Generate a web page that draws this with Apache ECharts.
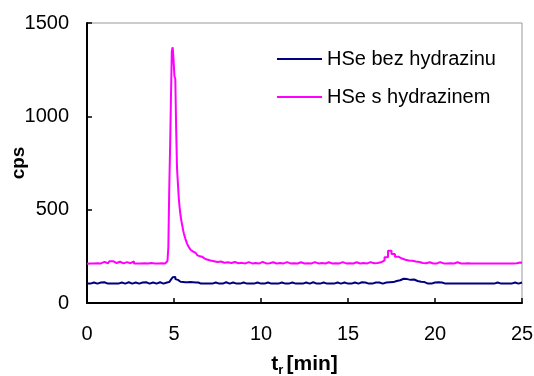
<!DOCTYPE html>
<html><head><meta charset="utf-8">
<script src="https://cdn.jsdelivr.net/npm/echarts@6/dist/echarts.min.js"></script>
<style>html,body{margin:0;padding:0;background:#fff}#c{width:534px;height:376px}</style>
</head><body><div id="c"></div>
<script>
// sampling times [min]
const times = [
0,0.2,0.4,0.6,0.8,1.0,1.2,1.4,1.6,1.8,2.0,2.2,2.4,2.6,2.8,3.0,3.2,3.4,3.6,3.8,4.0,4.2,4.4,4.6,
4.65,4.7,4.75,4.8,4.85,4.9,4.95,5.0,5.05,5.1,5.15,5.2,5.25,5.3,5.35,5.4,5.45,5.5,5.55,5.6,
5.7,5.8,5.9,6.0,6.1,6.2,6.3,6.4,6.5,6.6,6.7,6.8,6.9,7.0,
7.2,7.4,7.6,7.8,8.0,8.2,8.4,8.6,8.8,9.0,9.2,9.4,9.6,9.8,
10.0,10.2,10.4,10.6,10.8,11.0,11.2,11.4,11.6,11.8,12.0,12.2,12.4,12.6,12.8,13.0,13.2,13.4,13.6,13.8,
14.0,14.2,14.4,14.6,14.8,15.0,15.2,15.4,15.6,15.8,16.0,16.2,16.4,16.6,16.8,17.0,17.2,17.4,17.6,17.8,
18.0,18.2,18.4,18.6,18.8,19.0,19.2,19.4,19.6,19.8,20.0,20.2,20.4,20.6,20.8,21.0,21.2,21.4,21.6,21.8,
22.0,22.2,22.4,22.6,22.8,23.0,23.2,23.4,23.6,23.8,24.0,24.2,24.4,24.6,24.8,25.0
];
// HSe bez hydrazinu [cps]
const bezHydrazinu = [
104,104,110,104,110,111,104,104,104,104,110,104,111,104,110,104,110,111,104,110,104,111,104,110,
108,112,115,118,125,130,138,135,140,128,132,124,126,118,114,116,112,113,110,111,
112,111,112,110,111,110,111,110,104,110,104,104,110,104,
104,110,104,104,111,104,110,104,104,110,104,104,104,110,
104,104,110,104,104,104,110,104,104,110,104,104,104,110,104,111,104,104,110,104,
104,104,110,104,110,104,104,110,104,111,110,104,104,110,110,104,110,111,112,118,
122,130,128,124,126,118,114,112,104,104,110,111,110,104,104,104,104,104,104,104,
104,104,104,104,104,104,104,104,110,104,104,104,104,110,104,110
];
// HSe s hydrazinem [cps]
const sHydrazinem = [
210,212,211,213,212,220,213,224,214,221,212,219,213,223,212,211,213,212,214,212,211,213,212,216,
225,300,600,830,1100,1350,1370,1300,1215,1200,930,720,640,560,510,470,440,415,390,370,
345,318,300,285,275,268,262,255,250,246,240,236,232,228,
224,220,222,216,218,214,220,213,215,212,219,212,214,212,
220,212,213,218,212,214,212,219,212,213,212,218,212,213,212,219,212,214,212,218,
212,213,212,219,212,213,212,218,212,214,212,219,213,214,218,228,245,280,262,248,
238,232,228,226,222,220,214,213,218,212,212,219,212,212,213,212,218,212,212,213,
212,212,212,212,212,212,212,212,212,212,212,212,212,213,217,216
];
const seriesNames = ['HSe bez hydrazinu', 'HSe s hydrazinem'];
const xTicks = {min: 0, max: 25, interval: 5};
const yTicks = {min: 0, max: 1500, interval: 500};

const font = '"Liberation Sans", Arial, sans-serif';
const zip = (vals) => times.map((t, i) => [t, vals[i]]);
const chart = echarts.init(document.getElementById('c'));
chart.setOption({
  animation: false,
  backgroundColor: '#fff',
  textStyle: {fontFamily: font},
  grid: {left: 87, right: 12, top: 23, bottom: 73, show: true, borderColor: '#999', borderWidth: 1,
         containLabel: false, outerBoundsMode: 'none'},
  legend: {
    orient: 'vertical', left: 277, top: 48, padding: 0, itemWidth: 45, itemHeight: 2, itemGap: 16, icon: 'rect',
    textStyle: {fontFamily: font, fontSize: 20, color: '#000', lineHeight: 22},
    data: seriesNames
  },
  xAxis: {
    type: 'value', min: xTicks.min, max: xTicks.max, interval: xTicks.interval,
    axisLine: {lineStyle: {color: '#000', width: 2}},
    axisTick: {inside: true, length: 5, lineStyle: {color: '#000', width: 1.5}},
    splitLine: {show: false},
    axisLabel: {fontSize: 20, color: '#000', margin: 21, fontFamily: font, formatter: (v) => String(v)},
    name: '{b|t}{s|r} {b|[min]}', nameLocation: 'middle', nameGap: 49, nameMoveOverlap: false,
    nameTextStyle: {rich: {
      b: {fontSize: 21, fontWeight: 'bold', color: '#000', fontFamily: font},
      s: {fontSize: 13, fontWeight: 'bold', color: '#000', fontFamily: font, verticalAlign: 'bottom', padding: [12,0,0,0]}
    }}
  },
  yAxis: {
    type: 'value', min: yTicks.min, max: yTicks.max, interval: yTicks.interval,
    axisLine: {show: true, lineStyle: {color: '#000', width: 2}},
    axisTick: {show: true, inside: true, length: 5, lineStyle: {color: '#000', width: 1.5}},
    splitLine: {show: false},
    axisLabel: {fontSize: 20, color: '#000', margin: 18, fontFamily: font, formatter: (v) => String(v)},
    name: 'cps', nameLocation: 'middle', nameGap: 59, nameMoveOverlap: false,
    nameTextStyle: {fontSize: 19, fontWeight: 'bold', color: '#000', fontFamily: font}
  },
  series: [
    {name: seriesNames[0], type: 'line', step: 'middle', symbol: 'none', data: zip(bezHydrazinu),
     lineStyle: {color: '#000080', width: 2}, itemStyle: {color: '#000080'}},
    {name: seriesNames[1], type: 'line', step: 'middle', symbol: 'none', data: zip(sHydrazinem),
     lineStyle: {color: '#FF00FF', width: 2}, itemStyle: {color: '#FF00FF'}}
  ]
});
</script></body></html>
